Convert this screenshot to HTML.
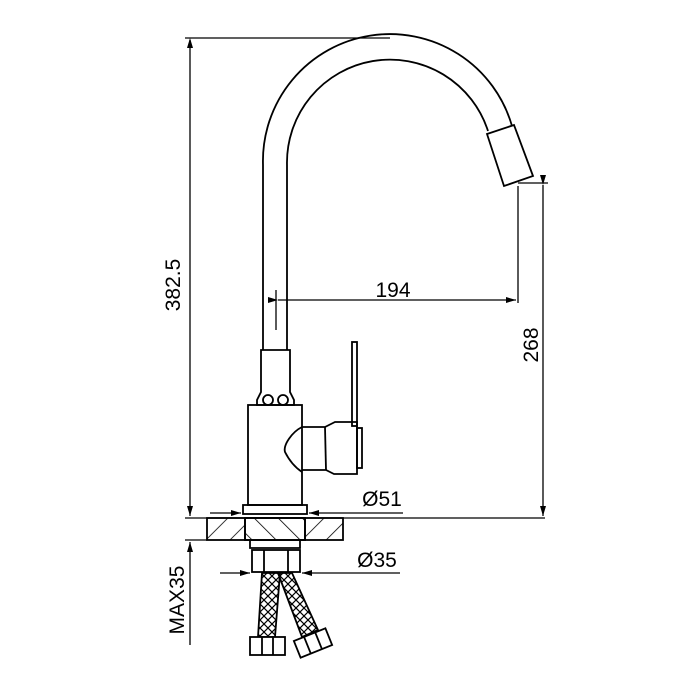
<!DOCTYPE html>
<html><head><style>html,body{margin:0;padding:0;background:#fff}svg{display:block}</style></head><body>
<svg width="700" height="700" viewBox="0 0 700 700" xmlns="http://www.w3.org/2000/svg" font-family="Liberation Sans, sans-serif">
<defs>
<pattern id="h1" width="17" height="17" patternUnits="userSpaceOnUse" patternTransform="rotate(45)"><line x1="0" y1="0" x2="0" y2="17" stroke="#000" stroke-width="1.6"/></pattern>
<pattern id="h2" width="17" height="17" patternUnits="userSpaceOnUse" patternTransform="rotate(-45)"><line x1="0" y1="0" x2="0" y2="17" stroke="#000" stroke-width="1.6"/></pattern>
<pattern id="mesh" width="8" height="8" patternUnits="userSpaceOnUse"><path d="M0 0L8 8M8 0L0 8" stroke="#000" stroke-width="1.2"/></pattern>
<marker id="a" markerWidth="10" markerHeight="6" refX="10" refY="3" orient="auto" markerUnits="userSpaceOnUse"><path d="M0 0L10 3L0 6z" fill="#000"/></marker>
</defs>
<g fill="none" stroke="#000" stroke-width="1.8">
<path d="M263 350 V165 A127 127 0 0 1 512 126"/>
<path d="M287 350 V165 A103 103 0 0 1 488 131"/>
<path d="M487 134 L514 125 L533 176 L504 186 Z" fill="#fff"/>
<path d="M261 350 H290 V392 L294 400 V405 H257 V400 L261 392 Z"/>
<circle cx="268" cy="400" r="5"/><circle cx="283" cy="400" r="5"/>
<rect x="248" y="405" width="54" height="100"/>
<path d="M302 427 C292 432 283 445 285 452 C290 462 296 468 302 472"/>
<path d="M302 427 H325 L335 422 H357 V474 H334 L326 470 H302"/>
<path d="M325 427 L326 470"/>
<rect x="352" y="342" width="5" height="84"/>
<rect x="357" y="428" width="5" height="40"/>
<rect x="243" y="505" width="64" height="9"/>
<rect x="207" y="518" width="136" height="22" fill="url(#h1)"/>
<rect x="245" y="518" width="60" height="22" fill="#fff"/>
<rect x="245" y="518" width="60" height="22" fill="url(#h2)"/>
<path d="M250 540 V548 H300 V540"/>
<rect x="252" y="550" width="48" height="22"/>
<line x1="264" y1="550" x2="264" y2="572"/><line x1="288" y1="550" x2="288" y2="572"/>
<path d="M262 573 L258 637 H275 L280 573 Z" fill="url(#mesh)"/>
<path d="M278 573 L302 637 L318 630 L292 573 Z" fill="url(#mesh)"/>
<rect x="250" y="637" width="35" height="18" fill="#fff"/>
<line x1="262" y1="637" x2="262" y2="655"/><line x1="273" y1="637" x2="273" y2="655"/>
<g transform="rotate(-22 313 643)"><rect x="296" y="634" width="34" height="18" fill="#fff"/><line x1="307" y1="634" x2="307" y2="652"/><line x1="319" y1="634" x2="319" y2="652"/></g>
</g>
<g stroke="#000" stroke-width="1.3" fill="none">
<line x1="185" y1="38" x2="390" y2="38"/>
<line x1="185" y1="518" x2="545" y2="518"/>
<line x1="185" y1="540" x2="207" y2="540"/>
<line x1="518" y1="183" x2="548" y2="183"/>
<line x1="518" y1="186" x2="518" y2="303"/>
<line x1="276" y1="290" x2="276" y2="330"/>
<line x1="190" y1="40" x2="190" y2="516" marker-end="url(#a)"/>
<path d="M190 38 l-3 10 h6 z" fill="#000" stroke="none"/>
<line x1="190" y1="645" x2="190" y2="542" marker-end="url(#a)"/>
<line x1="543" y1="185" x2="543" y2="516" marker-start="url(#a)" marker-end="url(#a)"/>
<line x1="278" y1="300" x2="516" y2="300" marker-start="url(#a)" marker-end="url(#a)"/>
<line x1="210" y1="513" x2="241" y2="513" marker-end="url(#a)"/>
<line x1="403" y1="513" x2="309" y2="513" marker-end="url(#a)"/>
<line x1="220" y1="573" x2="250" y2="573" marker-end="url(#a)"/>
<line x1="400" y1="573" x2="302" y2="573" marker-end="url(#a)"/>
</g>
<g font-size="21" fill="#000">
<text x="393" y="297" text-anchor="middle">194</text>
<text x="382" y="506" text-anchor="middle">Ø51</text>
<text x="377" y="567" text-anchor="middle">Ø35</text>
<text transform="translate(180 285) rotate(-90)" text-anchor="middle">382.5</text>
<text transform="translate(538 345) rotate(-90)" text-anchor="middle">268</text>
<text transform="translate(184 600) rotate(-90)" text-anchor="middle">MAX35</text>
</g>
</svg>
</body></html>
